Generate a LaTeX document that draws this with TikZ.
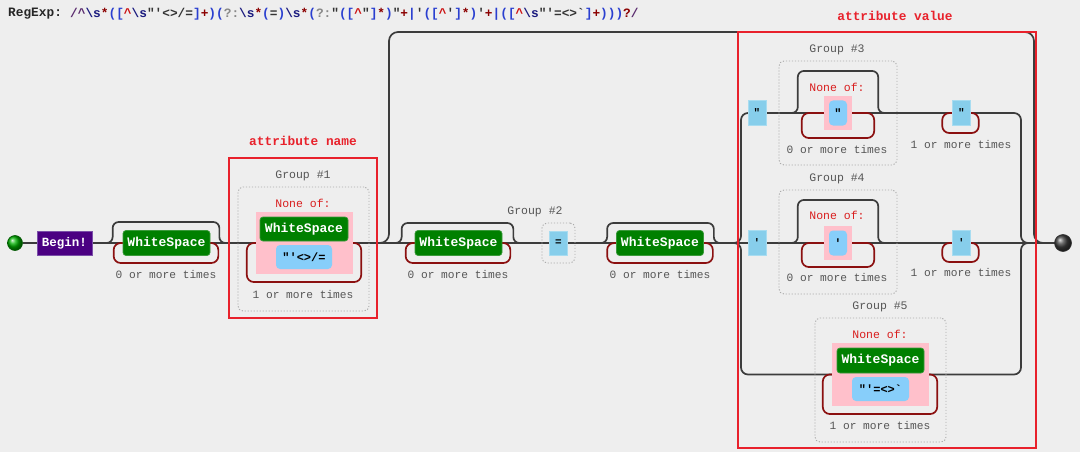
\documentclass[tikz,border=0pt]{standalone}
\usepackage{fontspec}
\setmonofont{Liberation Mono}
\usetikzlibrary{calc}
\definecolor{bgc}{HTML}{EEEEEE}
\definecolor{linec}{HTML}{3C3C3C}
\definecolor{repc}{HTML}{8B1010}
\definecolor{wsg}{HTML}{008000}
\definecolor{wsgb}{HTML}{3A9A3A}
\definecolor{pinkc}{HTML}{FFC0CB}
\definecolor{skyc}{HTML}{87CEEB}
\definecolor{skyb}{HTML}{A8DCF0}
\definecolor{clsc}{HTML}{87CEFA}
\definecolor{grpc}{HTML}{AAAAAA}
\definecolor{txtg}{HTML}{555555}
\definecolor{redf}{HTML}{E8212B}
\definecolor{noneofc}{HTML}{D91E1E}
\definecolor{beginc}{HTML}{4B0082}
\definecolor{beginb}{HTML}{7A4FA8}
\definecolor{cdel}{HTML}{5B2C6F}
\definecolor{cesc}{HTML}{1B1B7F}
\definecolor{cq}{HTML}{8B0000}
\definecolor{cg}{HTML}{2A3FD0}
\definecolor{cgr}{HTML}{888888}
\definecolor{cn}{HTML}{CC1111}
\definecolor{cl}{HTML}{333333}
\newcommand\fsz[1]{\fontsize{#1}{#1}\selectfont}
\newcommand\rc[2]{\textcolor{#1}{#2}}
\newcommand\skiparc[4]{\draw[conn,rounded corners=6] ($(#1.west)+(-#2-7,0)$) -| ($(#1.west)+(-#2,-#4)$) -| ($(#1.east)+(#3,0)$) -- ++(7,0);}
\newcommand\reploop[4]{\draw[rep,rounded corners=7] ($(#1.west)+(2,0)$) -- ($(#1.west)+(-#2,0)$) -- ($(#1.west)+(-#2,#4)$) -- ($(#1.east)+(#3,#4)$) -- ($(#1.east)+(#3,0)$) -- ($(#1.east)+(-2,0)$);}
\pgfdeclarelayer{bg}
\pgfsetlayers{bg,main}
\begin{document}
\begin{tikzpicture}[x=1pt,y=-1pt,
 conn/.style={draw=linec,line width=1.7},
 rep/.style={draw=repc,line width=1.7},
 wsbox/.style={rectangle,rounded corners=3,fill=wsg,draw=wsgb,line width=0.7,text=white,font=\ttfamily\bfseries\fsz{13},minimum width=87,minimum height=25,inner sep=0},
 beginbox/.style={rectangle,fill=beginc,draw=beginb,line width=0.8,text=white,font=\ttfamily\bfseries\fsz{12.5},minimum width=55,minimum height=24,inner sep=0},
 litbox/.style={rectangle,fill=skyc,draw=skyb,line width=0.5,text=black,font=\ttfamily\bfseries\fsz{11},minimum width=18,minimum height=25,inner sep=0},
 clsbox/.style={rectangle,rounded corners=4,fill=clsc,text=black,font=\ttfamily\bfseries\fsz{12},minimum height=24,inner sep=0},
 pinkbox/.style={rectangle,fill=pinkc,inner sep=0},
 grpbox/.style={rectangle,rounded corners=5,draw=grpc,line width=0.9,dash pattern=on 1.2pt off 1.8pt,inner sep=0},
 grplabel/.style={text=txtg,font=\ttfamily\fsz{11.5},inner sep=0},
 timeslabel/.style={text=txtg,font=\ttfamily\fsz{11.2},inner sep=0},
 noneof/.style={text=noneofc,font=\ttfamily\fsz{11.5},inner sep=0},
 framebox/.style={draw=redf,line width=2},
 framelabel/.style={text=redf,font=\ttfamily\bfseries\fsz{12.8},inner sep=0},
]
\begin{pgfonlayer}{bg}
\fill[bgc] (0,0) rectangle (1080,452);
\end{pgfonlayer}
\useasboundingbox (0,0) rectangle (1080,452);

% title
\node[anchor=west,inner sep=0,text=black!85,font=\ttfamily\bfseries\fsz{12.8}] (rtitle) at (8,14) {RegExp:};
\node[anchor=west,inner sep=0,font=\ttfamily\bfseries\fsz{12.8}] (regex) at (70,14) {\rc{cdel}{/\textasciicircum}\rc{cesc}{\textbackslash s}\rc{cq}{*}\rc{cg}{(}\rc{cg}{[}\rc{cn}{\textasciicircum}\rc{cesc}{\textbackslash s}\rc{cl}{"'<>/=}\rc{cg}{]}\rc{cq}{+}\rc{cg}{)}\rc{cg}{(}\rc{cgr}{?:}\rc{cesc}{\textbackslash s}\rc{cq}{*}\rc{cg}{(}\rc{cl}{=}\rc{cg}{)}\rc{cesc}{\textbackslash s}\rc{cq}{*}\rc{cg}{(}\rc{cgr}{?:}\rc{cl}{"}\rc{cg}{([}\rc{cn}{\textasciicircum}\rc{cl}{"}\rc{cg}{]}\rc{cq}{*}\rc{cg}{)}\rc{cl}{"}\rc{cq}{+}\rc{cg}{|}\rc{cl}{'}\rc{cg}{([}\rc{cn}{\textasciicircum}\rc{cl}{'}\rc{cg}{]}\rc{cq}{*}\rc{cg}{)}\rc{cl}{'}\rc{cq}{+}\rc{cg}{|}\rc{cg}{([}\rc{cn}{\textasciicircum}\rc{cesc}{\textbackslash s}\rc{cl}{"'=<>\textasciigrave}\rc{cg}{]}\rc{cq}{+}\rc{cg}{)))}\rc{cq}{?}\rc{cdel}{/}};

% start / begin
\node[circle,minimum size=15,inner sep=0,shade,ball color=green!70!black,draw=green!35!black,line width=0.6] (start) at (15,243) {};
\node[beginbox] (begin) at (64.5,243) {Begin!};

% ws1
\node[wsbox] (ws1) at (166.5,243) {WhiteSpace};
\node[timeslabel] (t1) at (166,274) {0 or more times};

% group 1
\node[grpbox,minimum width=131,minimum height=124] (g1) at (303.5,249) {};
\node[grplabel] (g1l) at (303,176) {Group \#1};
\node[noneof] (n1) at (303,203) {None of:};
\node[pinkbox,minimum width=97,minimum height=62] (pink1) at (304.5,243) {};
\node[wsbox,minimum width=88,minimum height=24] (ws1b) at (304,229) {WhiteSpace};
\node[clsbox,minimum width=56] (cc1) at (304,257) {"'<>/=};
\node[timeslabel] (t2) at (303,294) {1 or more times};

% ws2
\node[wsbox] (ws2) at (458.5,243) {WhiteSpace};
\node[timeslabel] (t3) at (458,274) {0 or more times};

% group 2
\node[grpbox,minimum width=33,minimum height=40] (g2) at (558.5,243) {};
\node[grplabel] (g2l) at (535,212) {Group \#2};
\node[litbox,minimum height=24] (eq) at (558.5,243) {=};

% ws3
\node[wsbox] (ws3) at (660,243) {WhiteSpace};
\node[timeslabel] (t4) at (660,274) {0 or more times};

% alternative 1
\node[litbox] (q1) at (757,113) {"};
\node[grpbox,minimum width=118,minimum height=104] (g3) at (838,113) {};
\node[grplabel] (g3l) at (837,50) {Group \#3};
\node[noneof] (n3) at (837,87) {None of:};
\node[pinkbox,minimum width=28,minimum height=34] (pink3) at (838,113) {};
\node[clsbox,minimum width=18,minimum height=25] (cc3) at (838,113) {"};
\node[timeslabel] (t5) at (837,149) {0 or more times};
\node[litbox] (q2) at (961.5,113) {"};
\node[timeslabel] (t6) at (961,144) {1 or more times};

% alternative 2
\node[litbox] (q3) at (757,243) {'};
\node[grpbox,minimum width=118,minimum height=104] (g4) at (838,242) {};
\node[grplabel] (g4l) at (837,179) {Group \#4};
\node[noneof] (n4) at (837,215) {None of:};
\node[pinkbox,minimum width=28,minimum height=34] (pink4) at (838,243) {};
\node[clsbox,minimum width=18,minimum height=25] (cc4) at (838,243) {'};
\node[timeslabel] (t7) at (837,277) {0 or more times};
\node[litbox] (q4) at (961.5,243) {'};
\node[timeslabel] (t8) at (961,272) {1 or more times};

% alternative 3
\node[grpbox,minimum width=131,minimum height=124] (g5) at (880.5,380) {};
\node[grplabel] (g5l) at (880,307) {Group \#5};
\node[noneof] (n5) at (880,334) {None of:};
\node[pinkbox,minimum width=97,minimum height=63] (pink5) at (880.5,374.5) {};
\node[wsbox,minimum width=87,minimum height=25] (ws5) at (880.5,360.5) {WhiteSpace};
\node[clsbox,minimum width=57] (cc5) at (880.5,389) {"'=<>\textasciigrave};
\node[timeslabel] (t9) at (880,425) {1 or more times};

% end
\node[circle,minimum size=17,inner sep=0,shade,ball color=black!75,draw=black!80,line width=0.6] (end) at (1063,243) {};

\coordinate (split) at (733,243);
\coordinate (altL) at (741,243);
\coordinate (altR) at (1021,243);
\coordinate (merge) at (1029,243);
\coordinate (byS) at (376,243);
\coordinate (byE) at (1046,243);

\begin{pgfonlayer}{bg}
% main line
\draw[conn] (start) -- (begin);
\draw[conn] (begin) -- (ws1);
\draw[conn] (ws1) -- (pink1);
\draw[conn] (pink1) -- (ws2);
\draw[conn] (ws2) -- (eq);
\draw[conn] (eq) -- (ws3);
\draw[conn] (ws3.east) -- (split);
\draw[conn] (merge) -- (end);
% bypass (optional)
\draw[conn,rounded corners=9] (byS) -| (389,32) -| (1034,243) -- (byE);
% alternatives
\draw[conn,rounded corners=7] (split) -- (altL) |- (q1.west);
\draw[conn] (q1) -- (pink3);
\draw[conn] (pink3) -- (q2);
\draw[conn,rounded corners=7] (q2.east) -| (altR) -- (merge);
\draw[conn] (split) -- (q3);
\draw[conn] (q3) -- (pink4);
\draw[conn] (pink4) -- (q4);
\draw[conn] (q4.east) -- (merge);
\draw[conn,rounded corners=7] (split) -- (altL) |- (pink5.west);
\draw[conn,rounded corners=7] (pink5.east) -| (altR) -- (merge);
% skips
\skiparc{ws1}{10}{9}{21}
\skiparc{ws2}{13}{11}{20}
\skiparc{ws3}{9}{10}{20}
\skiparc{pink3}{26}{26}{42}
\skiparc{pink4}{26}{26}{43}
% repeats
\reploop{ws1}{9}{8}{20}
\reploop{ws2}{9}{8}{20}
\reploop{ws3}{9}{9}{20}
\reploop{pink1}{9}{8}{39}
\reploop{pink3}{22}{22}{25}
\reploop{q2}{10}{8}{20}
\reploop{pink4}{22}{22}{24}
\reploop{q4}{10}{8}{19}
\reploop{pink5}{9}{8}{39.5}
\end{pgfonlayer}

% red frames
\draw[framebox] (229,158) rectangle (377,318);
\node[framelabel] (fl1) at (303,141) {attribute name};
\draw[framebox] (738,32) rectangle (1036,448);
\node[framelabel] (fl2) at (895,16) {attribute value};
\end{tikzpicture}
\end{document}
